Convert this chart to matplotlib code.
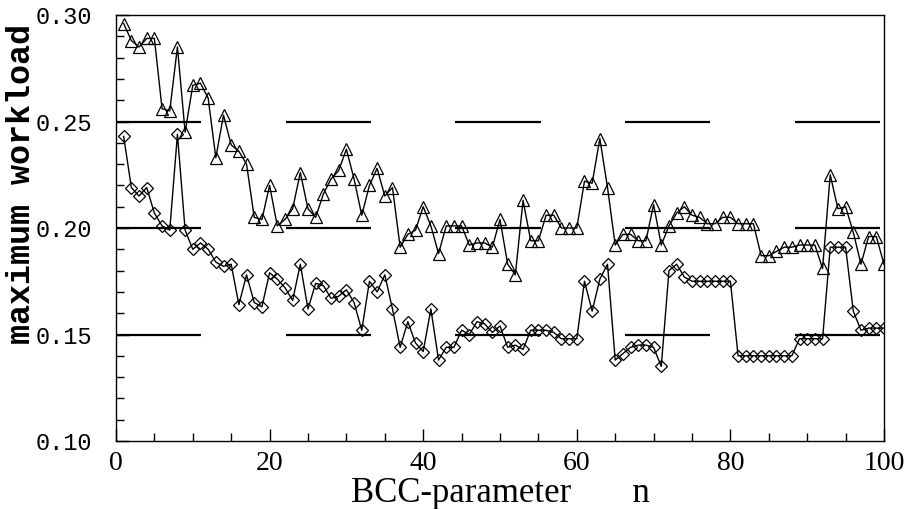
import numpy as np
import matplotlib.pyplot as plt
from matplotlib.ticker import MultipleLocator

# data, n = 1..100
n = list(range(1, 101))
triangles = [
    0.296, 0.288, 0.285, 0.289, 0.289, 0.256, 0.255, 0.285, 0.245, 0.267,
    0.268, 0.261, 0.233, 0.253, 0.239, 0.236, 0.230, 0.205, 0.204, 0.220,
    0.201, 0.204, 0.209, 0.226, 0.209, 0.205, 0.216, 0.223, 0.227, 0.237,
    0.223, 0.206, 0.220, 0.228, 0.215, 0.219, 0.191, 0.197, 0.199, 0.210,
    0.201, 0.188, 0.201, 0.201, 0.201, 0.192, 0.193, 0.193, 0.191, 0.204,
    0.183, 0.178, 0.213, 0.194, 0.194, 0.206, 0.206, 0.200, 0.200, 0.200,
    0.222, 0.221, 0.242, 0.219, 0.192, 0.197, 0.197, 0.194, 0.194, 0.211,
    0.192, 0.201, 0.207, 0.210, 0.206, 0.205, 0.202, 0.202, 0.205, 0.205,
    0.202, 0.202, 0.202, 0.187, 0.187, 0.189, 0.191, 0.191, 0.192, 0.192,
    0.192, 0.181, 0.225, 0.209, 0.210, 0.198, 0.183, 0.196, 0.196, 0.183,
]
diamonds = [
    0.243, 0.219, 0.215, 0.219, 0.207, 0.201, 0.199, 0.244, 0.199, 0.190,
    0.193, 0.190, 0.184, 0.182, 0.183, 0.164, 0.178, 0.165, 0.163, 0.179,
    0.176, 0.172, 0.166, 0.183, 0.162, 0.174, 0.173, 0.167, 0.168, 0.171,
    0.165, 0.152, 0.175, 0.170, 0.178, 0.162, 0.144, 0.156, 0.146, 0.142,
    0.162, 0.138, 0.144, 0.144, 0.152, 0.150, 0.156, 0.155, 0.151, 0.154,
    0.144, 0.145, 0.143, 0.152, 0.152, 0.152, 0.151, 0.148, 0.148, 0.148,
    0.175, 0.161, 0.176, 0.183, 0.138, 0.141, 0.144, 0.145, 0.145, 0.144,
    0.135, 0.180, 0.183, 0.177, 0.175, 0.175, 0.175, 0.175, 0.175, 0.175,
    0.140, 0.140, 0.140, 0.140, 0.140, 0.140, 0.140, 0.140, 0.148, 0.148,
    0.148, 0.148, 0.191, 0.191, 0.191, 0.161, 0.152, 0.153, 0.153, 0.153,
]
ref_levels = [0.15, 0.20, 0.25]
x_ticks = [0, 20, 40, 60, 80, 100]
y_ticks = [0.10, 0.15, 0.20, 0.25, 0.30]

fig = plt.figure(figsize=(9.09, 5.09), dpi=100)
ax = fig.add_axes([0.1276, 0.1336, 0.8449, 0.8369])

# long-dash reference lines
for lvl in ref_levels:
    for s in np.arange(0, 100, 22.1):
        ax.hlines(lvl, s, min(s + 11.1, 100), color='black', linewidth=1.6, zorder=1)

ax.plot(n, triangles, color='black', linewidth=1.0, marker='^', markersize=8,
        markerfacecolor='none', markeredgecolor='black', markeredgewidth=0.9, zorder=3)
ax.plot(n, diamonds, color='black', linewidth=1.0, marker='D', markersize=6.5,
        markerfacecolor='none', markeredgecolor='black', markeredgewidth=0.9, zorder=3)

ax.set_xlim(0, 100)
ax.set_ylim(0.10, 0.30)
ax.set_xticks(x_ticks)
ax.set_xticklabels([str(t) for t in x_ticks], family='Liberation Serif', fontsize=20)
ax.set_yticks(y_ticks)
ax.set_yticklabels([f'{t:.2f}' for t in y_ticks], family='Liberation Mono', fontsize=17)
ax.xaxis.set_minor_locator(MultipleLocator(5))
ax.yaxis.set_minor_locator(MultipleLocator(0.01))
ax.tick_params(which='both', direction='in', top=False, right=False, width=1)
ax.tick_params(which='major', length=9)
ax.tick_params(which='minor', length=6)
ax.tick_params(axis='x', pad=7)
ax.tick_params(axis='y', pad=17)
for sp in ax.spines.values():
    sp.set_linewidth(1.0)

ax.set_xlabel('BCC-parameter       n', family='Liberation Serif', fontsize=25, labelpad=1)
ax.set_ylabel('maximum workload', family='Liberation Mono', fontsize=24,
              fontweight='bold')
ax.yaxis.set_label_coords(-0.103, 0.603)

fig.savefig('out.png', dpi=100)
